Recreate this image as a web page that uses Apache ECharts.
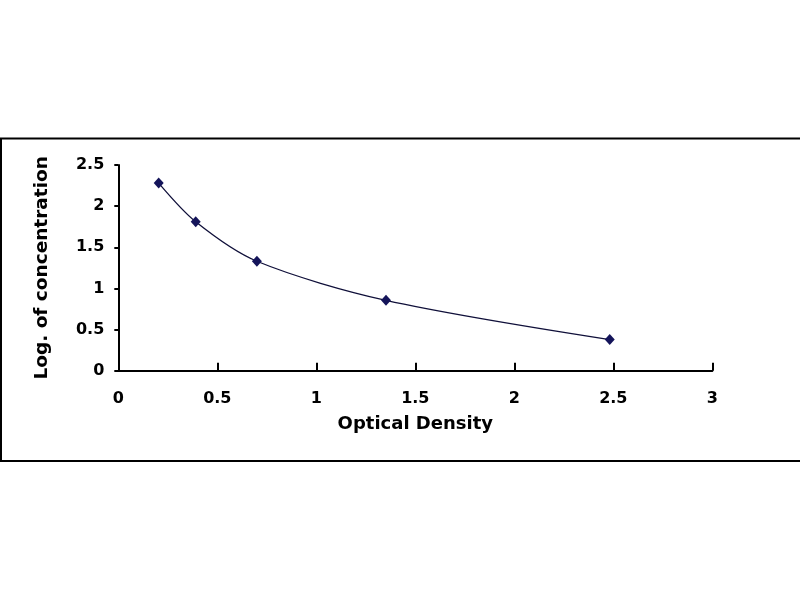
<!DOCTYPE html>
<html>
<head>
<meta charset="utf-8">
<script src="https://cdn.jsdelivr.net/npm/echarts@6/dist/echarts.min.js"></script>
<style>html,body{margin:0;padding:0;background:#fff;}#c{width:800px;height:600px;}</style>
</head>
<body>
<div id="c"></div>
<script>
var odValues = [0.204, 0.391, 0.70, 1.352, 2.482];
var logConc = [2.28, 1.81, 1.33, 0.855, 0.378];
var xTitle = 'Optical Density';
var yTitle = 'Log. of concentration';

var pts = odValues.map(function (x, i) { return [x, logConc[i]]; });
var font = 'DejaVu Sans';
var chart = echarts.init(document.getElementById('c'));
chart.setOption({
  backgroundColor: '#ffffff',
  animation: false,
  grid: { left: 118.3, right: 87.7, top: 165, bottom: 229.3 },
  xAxis: {
    type: 'value', min: 0, max: 3, interval: 0.5,
    axisLine: { show: true, onZero: false, lineStyle: { color: '#000', width: 2 } },
    axisTick: { show: true, inside: true, length: 8, lineStyle: { color: '#000', width: 2 } },
    splitLine: { show: false },
    axisLabel: { color: '#000', fontFamily: font, fontWeight: 'bold', fontSize: 16, margin: 20,
      formatter: function (v) { return String(+v.toFixed(1)); } },
    name: xTitle, nameLocation: 'middle', nameGap: 45,
    nameTextStyle: { color: '#000', fontFamily: font, fontWeight: 'bold', fontSize: 18 }
  },
  yAxis: {
    type: 'value', min: 0, max: 2.5, interval: 0.5,
    axisLine: { show: true, onZero: false, lineStyle: { color: '#000', width: 2 } },
    axisTick: { show: true, inside: false, length: 4, lineStyle: { color: '#000', width: 2 } },
    splitLine: { show: false },
    axisLabel: { color: '#000', fontFamily: font, fontWeight: 'bold', fontSize: 16, margin: 14,
      formatter: function (v) { return String(+v.toFixed(1)); } },
    name: yTitle, nameLocation: 'middle', nameGap: 67, nameRotate: 90,
    nameTextStyle: { color: '#000', fontFamily: font, fontWeight: 'bold', fontSize: 18.5 }
  },
  graphic: [{
    type: 'polyline', silent: true,
    shape: { points: [[801, 138.5], [1, 138.5], [1, 461], [801, 461]] },
    style: { stroke: '#000', lineWidth: 2, fill: null }
  }],
  series: [{
    type: 'line',
    data: pts,
    smooth: 0.3,
    symbol: 'diamond',
    symbolSize: [10, 11],
    itemStyle: { color: '#14145a' },
    lineStyle: { color: '#10103a', width: 1.3 }
  }]
});
</script>
</body>
</html>
